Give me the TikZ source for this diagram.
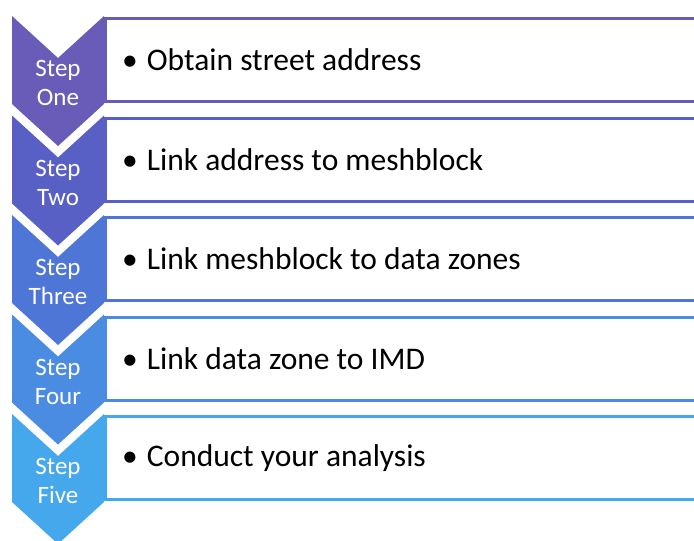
\documentclass[tikz,border=0pt]{standalone}
\usepackage{fontspec}
\setmainfont{Carlito}
\begin{document}
\begin{tikzpicture}[x=1pt,y=-1pt,
  chev/.style={fill=#1},
  itembox/.style={draw=#1,line width=3pt,fill=white},
  steptext/.style={text=white,align=center,font=\fontsize{25}{29}\selectfont,inner sep=0pt},
  itemtext/.style={anchor=west,text=black,font=\fontsize{31.5}{36}\selectfont,inner sep=0pt}]
\definecolor{cA}{RGB}{104,92,184}
\definecolor{cB}{RGB}{88,96,198}
\definecolor{cC}{RGB}{78,118,214}
\definecolor{cD}{RGB}{74,140,226}
\definecolor{cE}{RGB}{70,168,236}
\useasboundingbox (0,0) rectangle (694,541);
\clip (0,0) rectangle (694,541);
\foreach \i/\col/\num/\txt in {
  0/cA/One/Obtain street address,
  1/cB/Two/Link address to meshblock,
  2/cC/Three/Link meshblock to data zones,
  3/cD/Four/Link data zone to IMD,
  4/cE/Five/Conduct your analysis}{
  \pgfmathsetmacro{\T}{16+99.5*\i}
  % downward chevron
  \fill[chev=\col] (12,\T) -- (58,\T+42) -- (104,\T) -- (104,\T+88)
        -- (58,\T+130) -- (12,\T+88) -- cycle;
  % text box to the right, running off the edge
  \draw[itembox=\col] (105.5,\T+2.5) rectangle (720,\T+85.5);
  \node[steptext] (step\i) at (58,\T+67) {Step\\\num};
  \node[itemtext] (item\i) at (122,\T+44) {\textbullet\hspace{9pt}\txt};
}
\end{tikzpicture}
\end{document}
